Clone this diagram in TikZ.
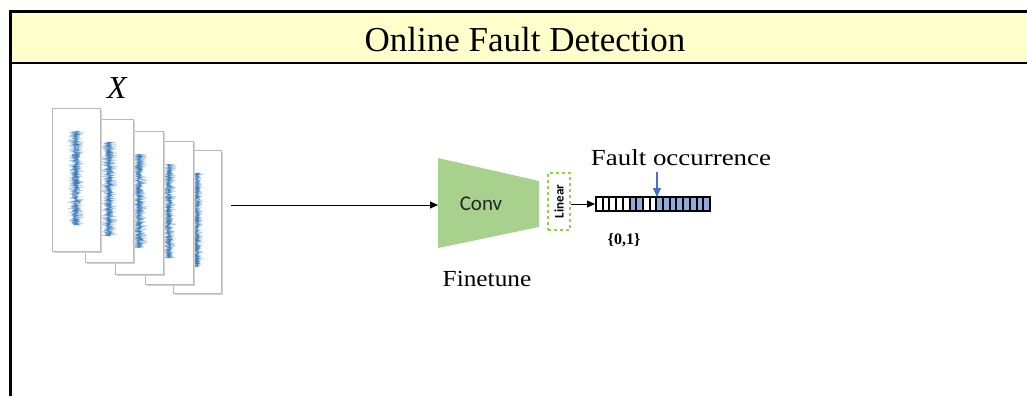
\documentclass[tikz,border=0pt]{standalone}
\usepackage{fontspec}
\setmainfont{Liberation Serif}
\newfontfamily\uisans{Carlito}
\usetikzlibrary{arrows.meta}
\definecolor{titlefill}{RGB}{255,255,204}
\definecolor{convgreen}{RGB}{169,209,142}
\definecolor{lingreen}{RGB}{146,208,80}
\definecolor{cellblue}{RGB}{143,170,220}
\definecolor{markblue}{RGB}{68,114,196}
\definecolor{sigblue}{RGB}{46,117,182}
\tikzset{
  frameline/.style={line width=3pt, black},
  flowarrow/.style={-{Triangle[length=8pt,width=7pt]}, line width=0.8pt, black},
  pagebox/.style={fill=white, draw=gray!55, line width=0.8pt},
  pageshadow/.style={fill=gray!35, draw=none},
  serifbig/.style={font=\fontsize{35}{40}\selectfont},
  seriflabel/.style={font=\fontsize{23}{27}\selectfont},
}
\begin{document}
\begin{tikzpicture}[x=1pt,y=-1pt]
\useasboundingbox (0,0) rectangle (1027,396);
\fill[white] (0,0) rectangle (1027,396);

% header band and frame
\fill[titlefill] (10,12) rectangle (1040,63);
\draw[frameline] (10,396) -- (10,12) -- (1040,12);
\draw[line width=2.5pt] (10,63) -- (1040,63);
\node[serifbig] (title) at (525,40) {Online Fault Detection};

% stack of signal sheets, back to front
\pgfmathsetseed{4217}
\foreach \l/\t/\w in {173/150/6, 145/141/7, 115/131/8, 85/119/8, 52/108/8}{
  \fill[pageshadow] (\l+2,\t+2) rectangle (\l+50,\t+145);
  \draw[pagebox] (\l,\t) rectangle (\l+48,\t+143);
  \draw[sigblue, opacity=0.35, line width=0.5pt]
    plot[domain=0:94, samples=320, variable=\s] ({\l+24+\w*rand}, {\t+23+\s});
  \draw[sigblue, opacity=0.6, line width=0.5pt]
    plot[domain=0:94, samples=260, variable=\s] ({\l+24+0.55*\w*rand}, {\t+23+\s});
  \draw[sigblue, opacity=0.8, line width=0.6pt]
    plot[domain=0:94, samples=200, variable=\s] ({\l+24+0.3*\w*rand}, {\t+23+\s});
}
\node[font=\itshape\fontsize{32}{36}\selectfont] (X) at (117,88) {X};
\coordinate (stackout) at (231,205);

% convolutional encoder
\fill[convgreen] (438,158) -- (539,181) -- (539,227) -- (438,248) -- cycle;
\coordinate (convin) at (438,205);
\node[font=\uisans\fontsize{21}{24}\selectfont, text=black!85] (conv) at (481,204) {Conv};
\node[seriflabel] (finetune) at (487,279) {\scalebox{1.1}[1]{Finetune}};

% linear head
\node[draw=lingreen, dashed, line width=1.2pt, minimum width=22pt, minimum height=57pt,
      inner sep=0pt, font=\uisans\bfseries\fontsize{13}{14}\selectfont] (lin) at (559,201.5)
      {\rotatebox{90}{Linear}};

% binary output sequence
\def\cw{6.706}
\foreach \i/\c in {0/white,1/white,2/white,3/white,4/white,5/cellblue,6/cellblue,7/white,8/white,
                   9/cellblue,10/cellblue,11/cellblue,12/cellblue,13/cellblue,14/cellblue,15/cellblue,16/cellblue}{
  \fill[\c] (596+\i*\cw,197) rectangle (596+\i*\cw+\cw,211);
  \draw[line width=2pt] (596+\i*\cw,197) -- (596+\i*\cw,211);
}
\node[draw, line width=2pt, minimum width=114pt, minimum height=14pt, inner sep=0pt] (seq) at (653,204) {};
\node[seriflabel] (fault) at (681,158) {\scalebox{1.17}[1]{Fault occurrence}};
\coordinate (faultpt) at (657,197);
\node[font=\bfseries\fontsize{16}{18}\selectfont] (bin) at (624,240) {\{0,1\}};

% connectors
\draw[flowarrow] (stackout) -- (convin);
\draw[flowarrow] (lin.east |- seq.west) -- (seq.west);
\draw[-{Triangle[length=9pt,width=8pt]}, line width=1.2pt, markblue] (657,172) -- (faultpt);
\end{tikzpicture}
\end{document}
